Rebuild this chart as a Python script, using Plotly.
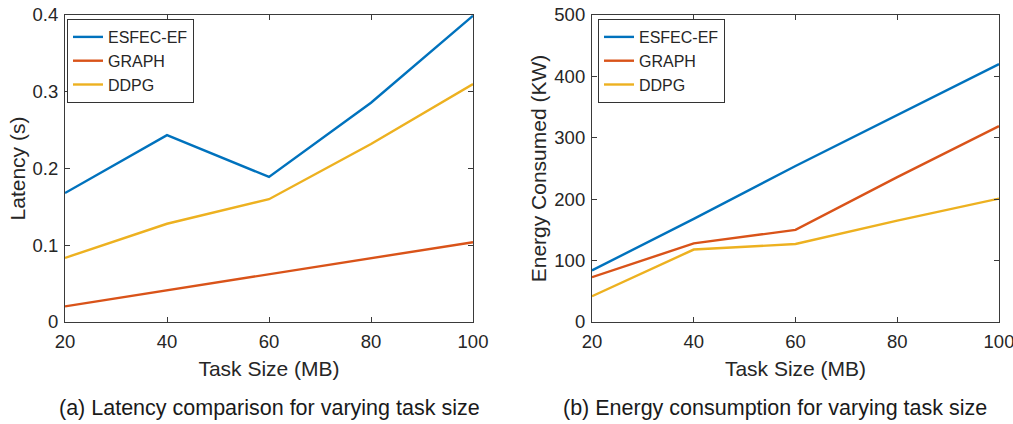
import plotly.graph_objects as go

task_size = [20, 40, 60, 80, 100]
series_names = ["ESFEC-EF", "GRAPH", "DDPG"]
colors = ["#0072BD", "#D95319", "#EDB120"]

latency_esfec = [0.168, 0.2435, 0.189, 0.2857, 0.399]
latency_graph = [0.0204, 0.0413, 0.063, 0.0835, 0.104]
latency_ddpg = [0.0835, 0.128, 0.160, 0.232, 0.310]

energy_esfec = [84, 168, 254, 337, 420]
energy_graph = [73, 128, 150, 236, 319]
energy_ddpg = [42, 118, 127, 165, 201]

x_ticks = [20, 40, 60, 80, 100]
lat_ticks = [0, 0.1, 0.2, 0.3, 0.4]
lat_tick_text = ["0", "0.1", "0.2", "0.3", "0.4"]
en_ticks = [0, 100, 200, 300, 400, 500]

FONT = "Liberation Sans, Arial, sans-serif"
AX = "#3a3a3a"

fig = go.Figure()

lat = [latency_esfec, latency_graph, latency_ddpg]
en = [energy_esfec, energy_graph, energy_ddpg]
for name, c, ys in zip(series_names, colors, lat):
    fig.add_trace(go.Scatter(x=task_size, y=ys, mode="lines", name=name,
                             line=dict(color=c, width=2.4), xaxis="x", yaxis="y",
                             legend="legend"))
for name, c, ys in zip(series_names, colors, en):
    fig.add_trace(go.Scatter(x=task_size, y=ys, mode="lines", name=name,
                             line=dict(color=c, width=2.4), xaxis="x2", yaxis="y2",
                             legend="legend2"))

W, H = 1013, 424


def px(v):
    return v / W


def py(v):
    return 1 - v / H


y_dom = [py(322), py(15)]

axis_common = dict(showline=True, mirror="ticks", linecolor=AX, linewidth=1.2,
                   ticks="inside", ticklen=5, tickcolor=AX, showgrid=False,
                   zeroline=False, automargin=False, ticklabeloverflow="allow",
                   tickfont=dict(family=FONT, size=18.5, color="#262626"))
xa = dict(ticklabelstandoff=3, **axis_common)
ya = dict(ticklabelstandoff=2, **axis_common)

fig.update_layout(
    width=W, height=H,
    margin=dict(l=0, r=0, t=0, b=0),
    paper_bgcolor="white", plot_bgcolor="white",
    font=dict(family=FONT, color="#262626"),
    xaxis=dict(domain=[px(65), px(473)], range=[20, 100], tickvals=x_ticks,
               anchor="y", title=dict(text="Task Size (MB)", font=dict(size=21), standoff=10),
               **xa),
    yaxis=dict(domain=y_dom, range=[0, 0.4], tickvals=lat_ticks, ticktext=lat_tick_text,
               anchor="x", title=dict(text="Latency (s)", font=dict(size=21), standoff=1),
               **ya),
    xaxis2=dict(domain=[px(592), px(999)], range=[20, 100], tickvals=x_ticks,
                anchor="y2", title=dict(text="Task Size (MB)", font=dict(size=21), standoff=10),
                **xa),
    yaxis2=dict(domain=y_dom, range=[0, 500], tickvals=en_ticks,
                anchor="x2", title=dict(text="Energy Consumed (KW)", font=dict(size=21), standoff=1),
                **ya),
    legend=dict(x=px(67), y=py(19), xanchor="left", yanchor="top",
                bgcolor="white", bordercolor="#333", borderwidth=1,
                font=dict(family=FONT, size=16, color="#262626"),
                tracegroupgap=0, itemwidth=30),
    legend2=dict(x=px(598), y=py(19), xanchor="left", yanchor="top",
                 bgcolor="white", bordercolor="#333", borderwidth=1,
                 font=dict(family=FONT, size=16, color="#262626"),
                 tracegroupgap=0, itemwidth=30),
    showlegend=True,
)

fig.add_annotation(text="(a) Latency comparison for varying task size", x=px(269), y=py(408),
                   xref="paper", yref="paper", showarrow=False,
                   font=dict(family=FONT, size=21.5, color="#1a1a1a"), xanchor="center", yanchor="middle")
fig.add_annotation(text="(b) Energy consumption for varying task size", x=px(775), y=py(408),
                   xref="paper", yref="paper", showarrow=False,
                   font=dict(family=FONT, size=21.5, color="#1a1a1a"), xanchor="center", yanchor="middle")

fig.write_html("out.html", config={"displayModeBar": False},
               post_script="document.body.style.margin='0';document.body.style.overflow='hidden';")
